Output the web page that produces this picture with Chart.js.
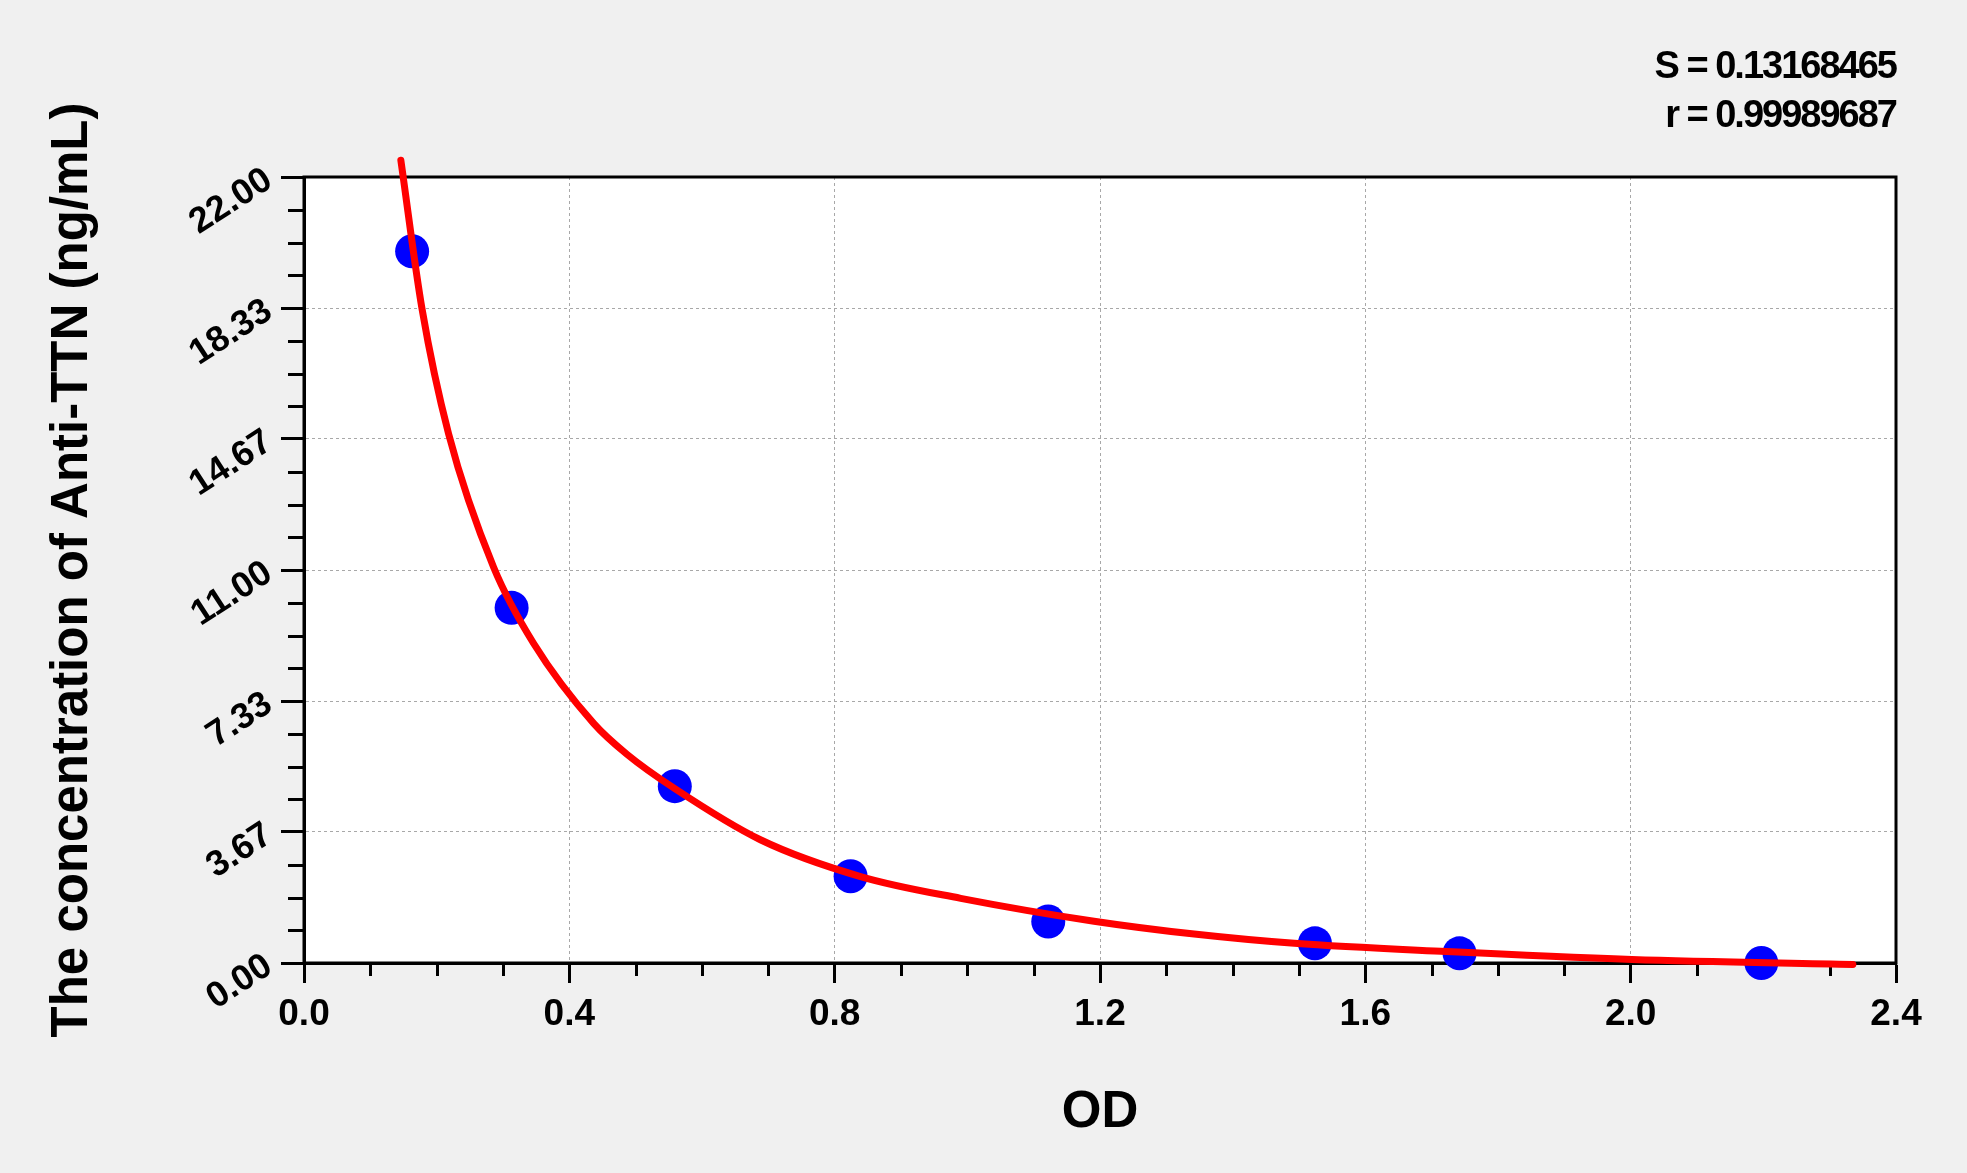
<!DOCTYPE html>
<html>
<head>
<meta charset="utf-8">
<title>Anti-TTN standard curve</title>
<script src="https://cdn.jsdelivr.net/npm/chart.js@4.4.1/dist/chart.umd.min.js"></script>
<style>
  html, body { margin: 0; padding: 0; background: #f0f0f0; }
  canvas { display: block; }
</style>
</head>
<body>
<canvas id="curveChart" width="1967" height="1173"></canvas>
<script>
// standards (OD vs concentration)
var odValues   = [0.163, 0.313, 0.559, 0.824, 1.122, 1.524, 1.742, 2.197];
var concValues = [19.92, 9.94, 4.95, 2.43, 1.16, 0.55, 0.27, 0];

// fitted curve
var curveOd   = [0.146, 0.178, 0.218, 0.286, 0.346, 0.437, 0.487, 0.559, 0.688, 0.839, 0.990, 1.191, 1.342, 1.493, 1.722, 2.002, 2.335];
var curveConc = [22.47, 18.30, 14.81, 11.07, 8.95, 6.70, 5.84, 4.88, 3.45, 2.42, 1.81, 1.17, 0.81, 0.55, 0.32, 0.10, -0.04];

var xTickLabels = ['0.0', '0.4', '0.8', '1.2', '1.6', '2.0', '2.4'];
var yTickLabels = ['0.00', '3.67', '7.33', '11.00', '14.67', '18.33', '22.00'];
var statLines = ['S = 0.13168465', 'r = 0.99989687'];

var xMax = 2.4, yMax = 22;
var xMinorStep = 0.1, yMinorStep = yMax / 24;

var fontFamily = '"Liberation Sans", Arial, sans-serif';

function toPoints(xs, ys) {
  var pts = [];
  for (var i = 0; i < xs.length; i++) pts.push({x: xs[i], y: ys[i]});
  return pts;
}

var framePlugin = {
  id: 'frame',
  beforeDraw: function (chart) {
    var ctx = chart.ctx, a = chart.chartArea;
    ctx.save();
    ctx.fillStyle = '#f0f0f0';
    ctx.fillRect(0, 0, chart.width, chart.height);
    ctx.fillStyle = '#ffffff';
    ctx.fillRect(a.left, a.top, a.right - a.left, a.bottom - a.top);
    ctx.restore();
  },
  beforeDatasetsDraw: function (chart) {
    var ctx = chart.ctx, a = chart.chartArea;
    var xs = chart.scales.x, ys = chart.scales.y;
    ctx.save();
    ctx.strokeStyle = '#000';
    ctx.lineWidth = 3;
    ctx.strokeRect(a.left, a.top, a.right - a.left, a.bottom - a.top);
    // minor ticks
    ctx.beginPath();
    for (var i = 1; i < 24; i++) {
      if (i % 4 === 0) continue;
      var py = Math.round(ys.getPixelForValue(i * yMinorStep)) + 0.5;
      ctx.moveTo(a.left - 16, py);
      ctx.lineTo(a.left, py);
      var px = Math.round(xs.getPixelForValue(i * xMinorStep)) + 0.5;
      ctx.moveTo(px, a.bottom);
      ctx.lineTo(px, a.bottom + 13);
    }
    ctx.stroke();
    ctx.restore();
  },
  afterDraw: function (chart) {
    var ctx = chart.ctx, a = chart.chartArea;
    ctx.save();
    ctx.fillStyle = '#000';
    ctx.font = 'bold 38px ' + fontFamily;
    ctx.textAlign = 'right';
    ctx.textBaseline = 'alphabetic';
    if ('letterSpacing' in ctx) ctx.letterSpacing = '-2px';
    ctx.fillText(statLines[0], a.right, 78);
    ctx.fillText(statLines[1], a.right, 127);
    ctx.restore();
  }
};

Chart.defaults.color = '#000';

new Chart(document.getElementById('curveChart').getContext('2d'), {
  type: 'scatter',
  data: {
    datasets: [{
      label: 'fit',
      data: toPoints(curveOd, curveConc),
      showLine: true,
      pointRadius: 0,
      borderColor: '#ff0000',
      borderWidth: 7,
      borderCapStyle: 'round',
      borderJoinStyle: 'round',
      cubicInterpolationMode: 'monotone',
      clip: false,
      order: 0
    }, {
      label: 'standards',
      data: toPoints(odValues, concValues),
      pointRadius: 17,
      pointBackgroundColor: '#0000ff',
      pointBorderWidth: 0,
      clip: false,
      order: 1
    }]
  },
  options: {
    responsive: false,
    devicePixelRatio: 1,
    animation: false,
    events: [],
    layout: { padding: { top: 177, right: 71, bottom: 0, left: 0 } },
    plugins: { legend: { display: false }, tooltip: { enabled: false } },
    scales: {
      x: {
        type: 'linear',
        min: 0,
        max: xMax,
        afterBuildTicks: function (scale) {
          scale.ticks = xTickLabels.map(function (t) { return {value: parseFloat(t)}; });
        },
        afterFit: function (scale) {
          scale.height = 210;
          scale.paddingLeft = 0;
          scale.paddingRight = 0;
        },
        ticks: {
          autoSkip: false,
          maxRotation: 0,
          padding: 10,
          font: { family: fontFamily, size: 37, weight: 'bold' },
          callback: function (v) { return v.toFixed(1); }
        },
        grid: { color: '#a8a8a8', lineWidth: 1, tickLength: 20, tickColor: '#000', tickWidth: 3 },
        border: { display: true, color: '#000', width: 3, dash: [3, 3] },
        title: {
          display: true,
          text: 'OD',
          font: { family: fontFamily, size: 51, weight: 'bold' },
          padding: { top: 0, bottom: 29 }
        }
      },
      y: {
        type: 'linear',
        min: 0,
        max: yMax,
        afterBuildTicks: function (scale) {
          scale.ticks = yTickLabels.map(function (t) { return {value: parseFloat(t)}; });
        },
        afterFit: function (scale) {
          scale.width = 304;
          scale.paddingTop = 0;
          scale.paddingBottom = 0;
        },
        ticks: {
          autoSkip: false,
          minRotation: 33,
          maxRotation: 33,
          padding: 12,
          font: { family: fontFamily, size: 36, weight: 'bold' },
          callback: function (v) { return v.toFixed(2); }
        },
        grid: { color: '#a8a8a8', lineWidth: 1, tickLength: 23, tickColor: '#000', tickWidth: 3 },
        border: { display: true, color: '#000', width: 3, dash: [3, 3] },
        title: {
          display: true,
          text: 'The concentration of Anti-TTN (ng/mL)',
          font: { family: fontFamily, size: 51, weight: 'bold' },
          padding: { top: 42, bottom: 0 }
        }
      }
    }
  },
  plugins: [framePlugin]
});
</script>
</body>
</html>
